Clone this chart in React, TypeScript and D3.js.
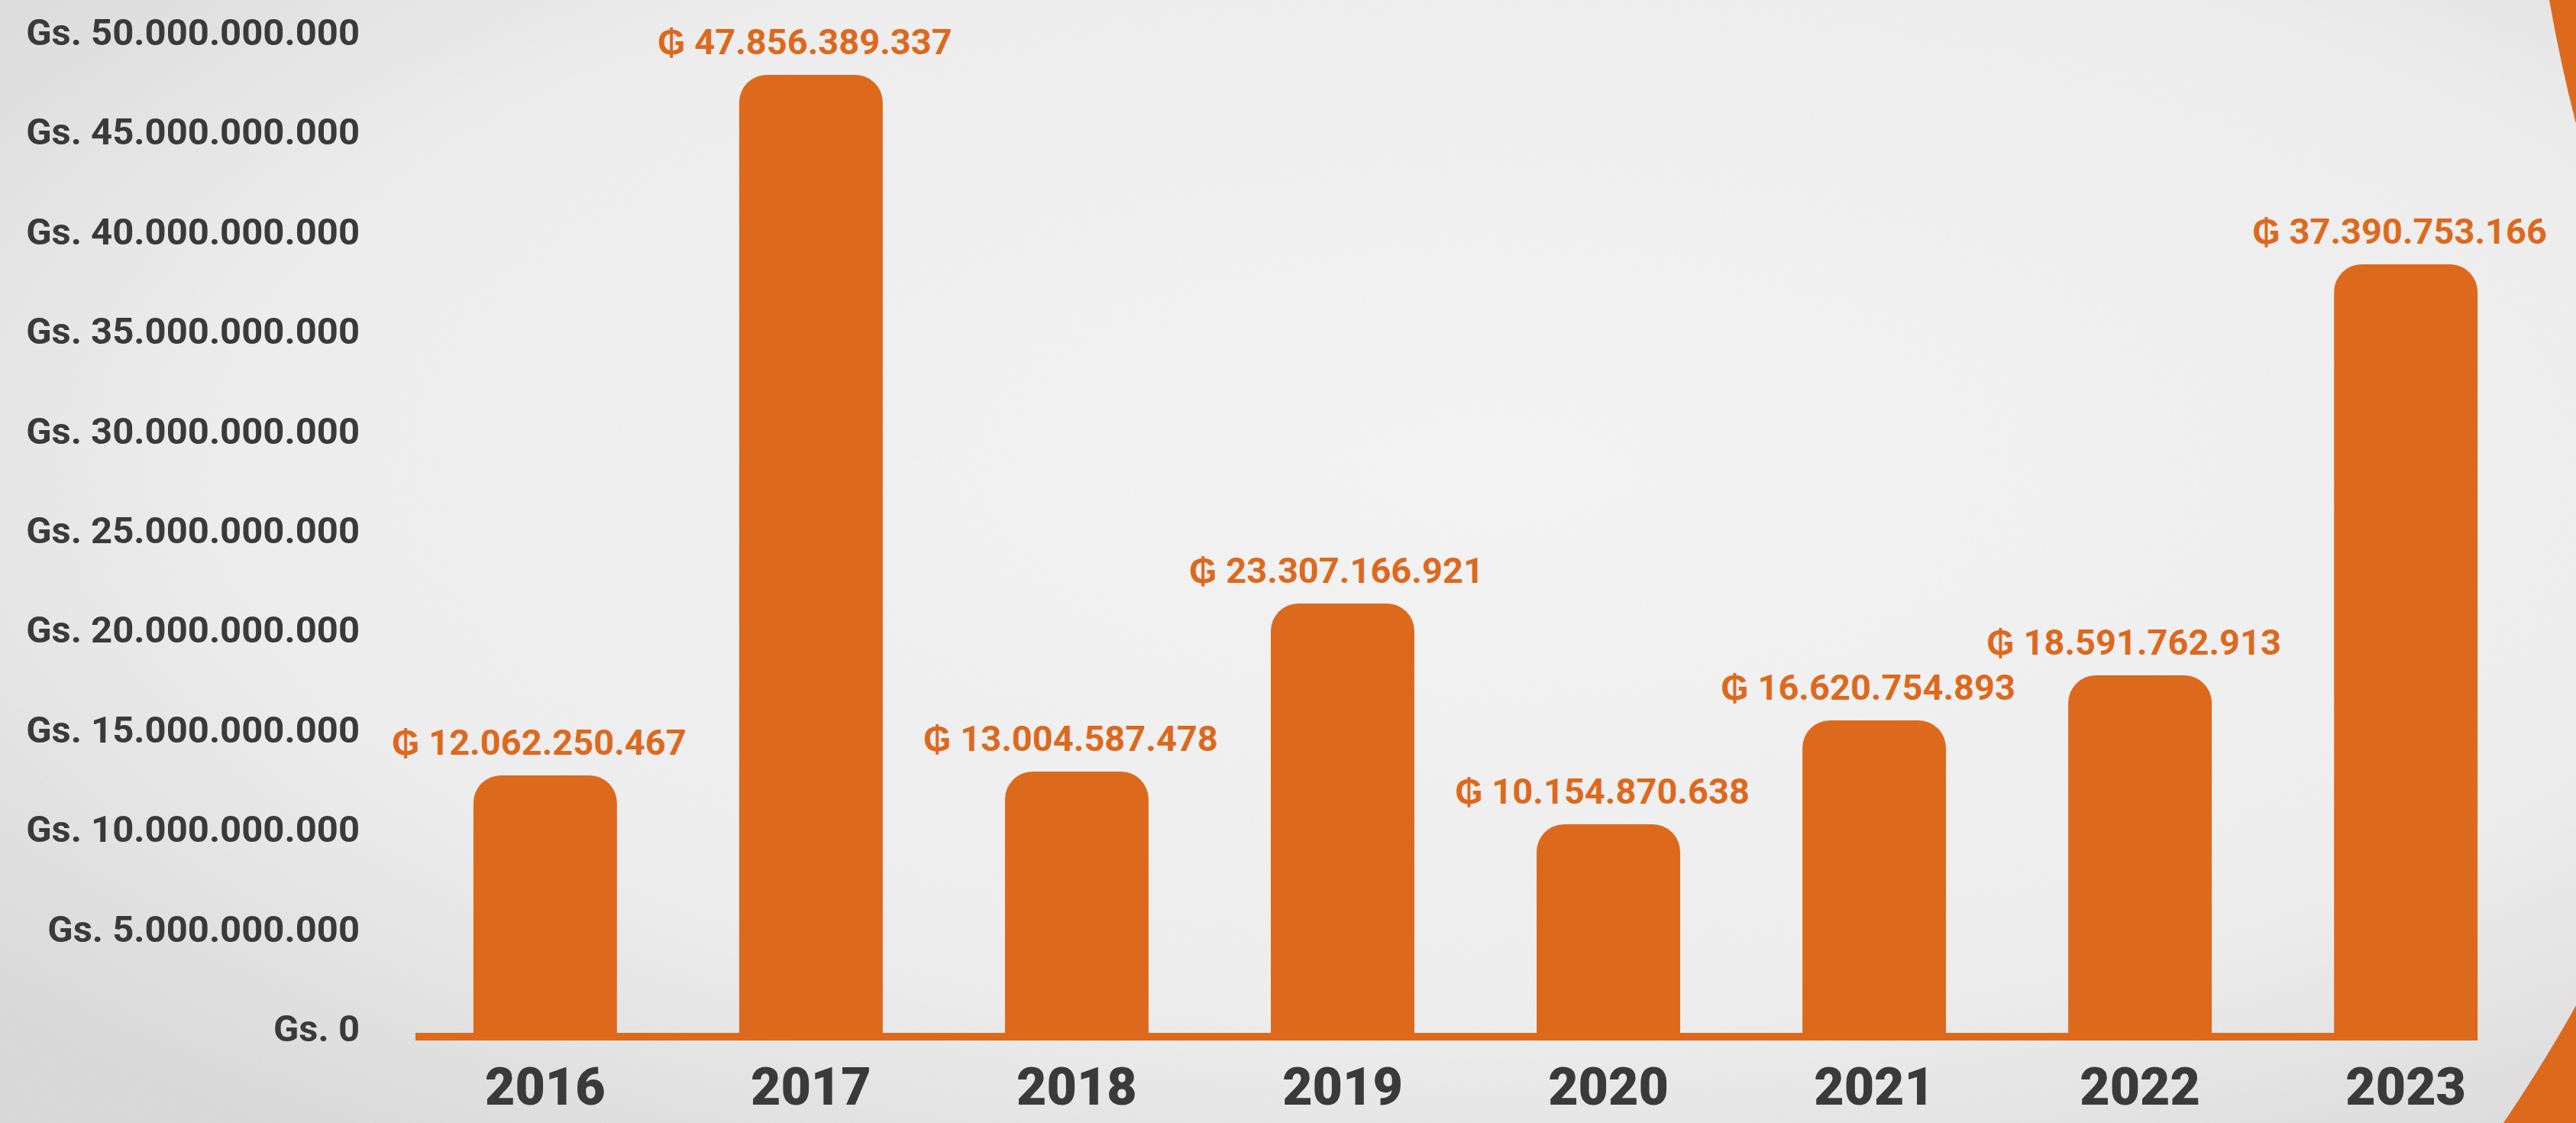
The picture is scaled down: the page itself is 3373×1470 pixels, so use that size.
import React, { useEffect } from 'react';
import * as d3 from 'd3';

const years: string[] = ['2016', '2017', '2018', '2019', '2020', '2021', '2022', '2023'];
// printed amounts above each bar (Guaraníes)
const labelValues: number[] = [
  12062250467, 47856389337, 13004587478, 23307166921,
  10154870638, 16620754893, 18591762913, 37390753166,
];
// bar heights as drawn in the picture, read against the axis (Guaraníes)
const barValues: number[] = [
  12.92e9, 48.08e9, 13.11e9, 21.55e9, 10.47e9, 15.68e9, 17.94e9, 38.57e9,
];
const yTickValues: number[] = [0, 5e9, 10e9, 15e9, 20e9, 25e9, 30e9, 35e9, 40e9, 45e9, 50e9];

const W = 3373;
const H = 1470;
const ORANGE = '#DD691D';
const DARK = '#3a3a3a';

const locale = d3.formatLocale({ decimal: ',', thousands: '.', grouping: [3], currency: ['', ''] });
const fmt = locale.format(',');

function topRoundedBar(x: number, y: number, w: number, h: number, r: number) {
  const rr = Math.min(r, w / 2, h);
  const p = d3.path();
  p.moveTo(x, y + h);
  p.lineTo(x, y + rr);
  p.arcTo(x, y, x + rr, y, rr);
  p.lineTo(x + w - rr, y);
  p.arcTo(x + w, y, x + w, y + rr, rr);
  p.lineTo(x + w, y + h);
  p.closePath();
  return p.toString();
}

export default function App() {
  useEffect(() => {
    document.body.style.margin = '0';
    document.body.style.overflow = 'hidden';
  }, []);

  const x = d3.scaleBand<string>()
    .domain(years)
    .range([544, 3320])
    .paddingInner(0.46)
    .paddingOuter(0.218);
  const y = d3.scaleLinear().domain([0, 50e9]).range([1352, 48]);
  const bw = x.bandwidth();
  const lastRight = (x(years[years.length - 1]) as number) + bw;

  const cornerTop = d3.path();
  cornerTop.moveTo(3338, 0);
  cornerTop.lineTo(W, 0);
  cornerTop.lineTo(W, 162);
  cornerTop.quadraticCurveTo(3352, 80, 3338, 0);
  cornerTop.closePath();

  const cornerBottom = d3.path();
  cornerBottom.moveTo(3278, H);
  cornerBottom.quadraticCurveTo(3335, 1385, W, 1316);
  cornerBottom.lineTo(W, H);
  cornerBottom.closePath();

  return (
    <svg width={W} height={H} style={{ position: 'absolute', left: 0, top: 0, display: 'block' }}>
      <defs>
        <radialGradient id="bg" cx="58%" cy="42%" r="75%">
          <stop offset="0" stopColor="#f5f5f5" />
          <stop offset="0.65" stopColor="#efefef" />
          <stop offset="1" stopColor="#dadada" />
        </radialGradient>
        <filter id="noise" x="0" y="0" width="100%" height="100%">
          <feTurbulence type="fractalNoise" baseFrequency="0.85" numOctaves={2} stitchTiles="stitch" />
          <feColorMatrix type="saturate" values="0" />
        </filter>
      </defs>
      <rect x={0} y={0} width={W} height={H} fill="url(#bg)" />
      <rect x={0} y={0} width={W} height={H} filter="url(#noise)" opacity={0.07} />

      <path d={cornerTop.toString()} fill={ORANGE} />
      <path d={cornerBottom.toString()} fill={ORANGE} />

      {yTickValues.map((v) => (
        <text
          key={v}
          x={471}
          y={y(v) + 11}
          textAnchor="end"
          fontFamily="Roboto, 'Open Sans', sans-serif"
          fontWeight={700}
          fontSize={49}
          fill={DARK}
        >
          {'Gs. ' + fmt(v)}
        </text>
      ))}

      {years.map((yr, i) => {
        const bx = x(yr) as number;
        const top = y(barValues[i]);
        return (
          <path key={yr} d={topRoundedBar(bx, top, bw, y(0) - top, 36)} fill={ORANGE} />
        );
      })}

      <rect x={544} y={y(0)} width={lastRight - 544} height={10} fill={ORANGE} />

      {years.map((yr, i) => {
        const cx = (x(yr) as number) + bw / 2 - 8;
        const top = y(barValues[i]);
        return (
          <text
            key={'l' + yr}
            x={cx}
            y={top - 44 + 17}
            textAnchor="middle"
            fontFamily="Roboto, 'Open Sans', sans-serif"
            fontWeight={700}
            fontSize={47}
            fill={ORANGE}
          >
            {'₲ ' + fmt(labelValues[i])}
          </text>
        );
      })}

      {years.map((yr) => (
        <text
          key={'y' + yr}
          x={(x(yr) as number) + bw / 2}
          y={1446}
          textAnchor="middle"
          fontFamily="Roboto, sans-serif"
          fontWeight={900}
          fontSize={68}
          fill={DARK}
        >
          {yr}
        </text>
      ))}
    </svg>
  );
}
